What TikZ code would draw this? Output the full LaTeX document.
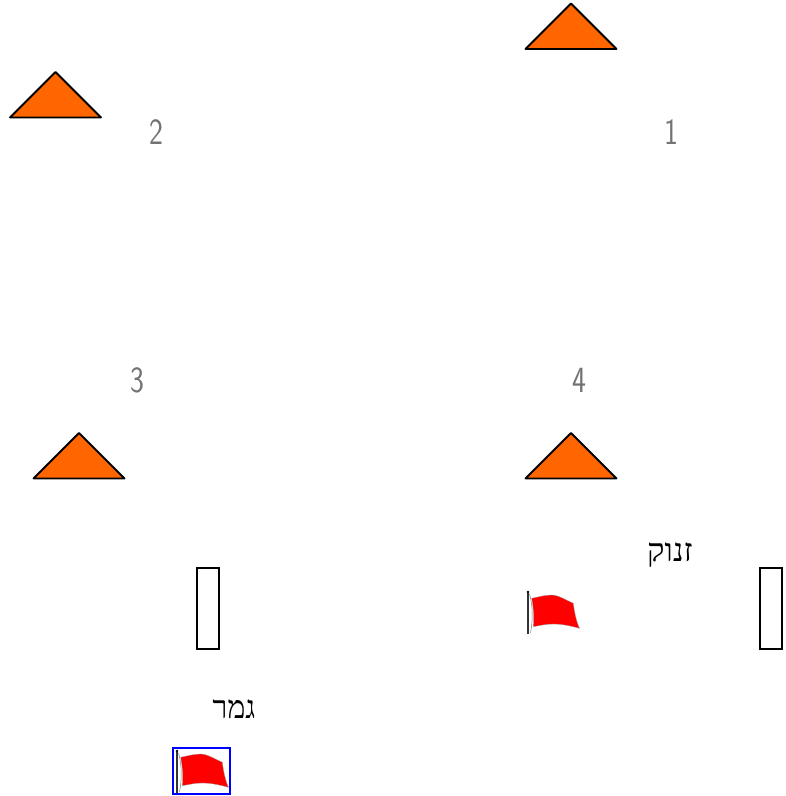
\documentclass[tikz,border=0pt]{standalone}
\usepackage{fontspec}
\setmainfont{Liberation Sans}
\newfontfamily\hebfont[Script=Hebrew]{Liberation Serif}
\TeXXeTstate=1
\definecolor{coneorange}{RGB}{255,102,0}
\definecolor{framegreyblue}{RGB}{0,0,255}
\tikzset{
    cone/.pic={
        \draw[fill=coneorange, line width=1.8pt, line join=round] (-45.5,0) -- (0,-45.5) -- (45.5,0) -- cycle;
    },
    flag/.pic={
        \draw[line width=2.6pt, black!80] (0,0) -- (0,-41);
        \fill[black] (0,-42) circle (1.4pt);
        \draw[line width=0.5pt, black!50] (1.5,-40) .. controls (5,-28) and (5,-14) .. (2.5,-1);
        \draw[fill=red, draw=black!40, line width=0.3pt] (3.7,-35.7) .. controls (10,-37) and (17,-39) .. (23.7,-39) .. controls (30,-39) and (38,-34) .. (45.3,-30.7)
            .. controls (46.5,-21) and (48.5,-12) .. (51.5,-5.7) .. controls (43,-8) and (34,-10) .. (25.3,-10)
            .. controls (18,-10) and (12,-8.5) .. (5.3,-7.3) .. controls (6.2,-16) and (5.5,-26) .. (3.7,-35.7) -- cycle;
    },
    goalbox/.style={draw, line width=1.1pt, minimum width=22pt, minimum height=81pt, inner sep=0pt},
    numlabel/.style={font=\sffamily\fontsize{37}{37}\selectfont, text=black!55, inner sep=0pt, xscale=0.8},
    heblabel/.style={font=\hebfont\fontsize{32}{32}\selectfont, inner sep=0pt}
}
\begin{document}
\begin{tikzpicture}[x=1pt, y=-1pt]
    \useasboundingbox (0,0) rectangle (786,796);

    % cones
    \pic at (571,49) {cone};
    \pic at (55.5,117.5) {cone};
    \pic at (79,478.5) {cone};
    \pic at (571,478.5) {cone};

    % numbers
    \node[numlabel] (one) at (671,132) {1};
    \node[numlabel] (two) at (156,132) {2};
    \node[numlabel] (three) at (137,380) {3};
    \node[numlabel] (four) at (579,380) {4};

    % start and finish
    \node[goalbox] (finishgate) at (208,608.5) {};
    \node[goalbox] (startgate) at (771,608.5) {};
    \node[heblabel, xscale=1.02] (start) at (670,555) {\beginR זנוק\endR};
    \node[heblabel, xscale=0.94] (finish) at (234,709) {\beginR גמר\endR};

    \pic at (528,634) {flag};
    \pic at (177,793) {flag};
    \node[draw=framegreyblue, line width=1.6pt, minimum width=57pt, minimum height=46pt, inner sep=0pt] (flagframe) at (201.5,771) {};
\end{tikzpicture}
\end{document}
